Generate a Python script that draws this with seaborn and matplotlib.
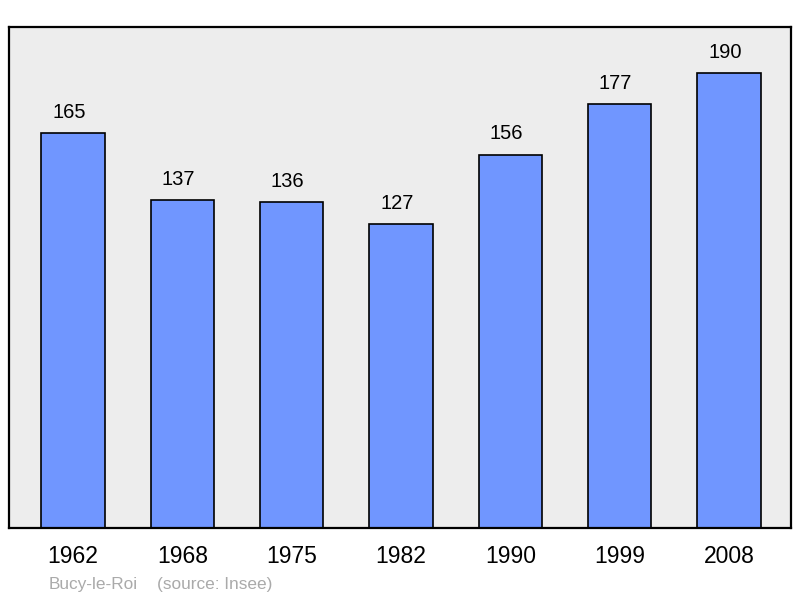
import seaborn as sns
import matplotlib.pyplot as plt
import pandas as pd

years = ['1962', '1968', '1975', '1982', '1990', '1999', '2008']
population = [165, 137, 136, 127, 156, 177, 190]

df = pd.DataFrame({'Année': years, 'Population': population})

sns.set_style('white')
plt.rcParams['font.family'] = ['Liberation Sans', 'DejaVu Sans']

fig = plt.figure(figsize=(8, 5.98), dpi=100)
ax = fig.add_axes([0.01125, 0.1171, 0.9775, 0.8378])
ax.set_facecolor('#ededed')

sns.barplot(data=df, x='Année', y='Population', color='#7096ff', saturation=1,
            width=0.58, edgecolor='black', linewidth=1.2, ax=ax)

for i, v in enumerate(population):
    ax.annotate(str(v), (i, v), xytext=(-3, 15), textcoords='offset points',
                ha='center', va='center', fontsize=14.5, color='black')

ax.set_xlim(-0.585, 6.567)
ax.set_ylim(0, 209.3)
ax.set_yticks([])
ax.set_xlabel('')
ax.set_ylabel('')
ax.tick_params(axis='x', length=0, pad=12, labelsize=16.5, labelcolor='black')
for s in ax.spines.values():
    s.set_color('black')
    s.set_linewidth(1.6)

fig.text(49 / 800, 1 - 584 / 598, 'Bucy-le-Roi', color='#aaaaaa', fontsize=12.4, va='center')
fig.text(157 / 800, 1 - 584 / 598, '(source: Insee)', color='#aaaaaa', fontsize=12.4, va='center')

fig.savefig('out.png', dpi=100)
